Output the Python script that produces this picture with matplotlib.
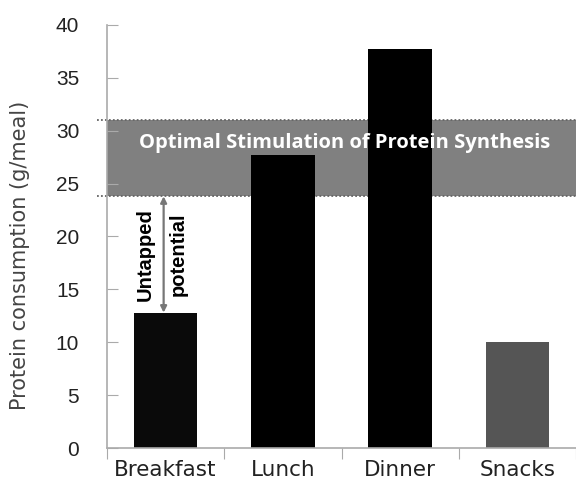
import numpy as np
import matplotlib.pyplot as plt

# meals and protein intake (g/meal)
meals = ['Breakfast', 'Lunch', 'Dinner', 'Snacks']
protein = [12.8, 27.7, 37.7, 10.0]
bar_colors = ['#0a0a0a', '#000000', '#000000', '#555555']
y_ticks = [0, 5, 10, 15, 20, 25, 30, 35, 40]

# optimal range band
optimal_low = 23.8
optimal_high = 31.0

fig = plt.figure(figsize=(5.76, 4.83), dpi=100)
ax = fig.add_axes([107 / 576, 35 / 483, 469 / 576, 423 / 483])

x = np.arange(len(meals))

# band behind the bars
ax.axhspan(optimal_low, optimal_high, color='#808080', zorder=1, lw=0)
for yv in (optimal_low, optimal_high):
    ax.axhline(yv, xmin=-0.021, xmax=1, color='#666666', ls=(0, (1, 1.2)),
               lw=1.3, zorder=1.5, clip_on=False)

ax.bar(x, protein, width=0.54, color=bar_colors, zorder=2)

ax.text(1.53, 28.8, 'Optimal Stimulation of Protein Synthesis', color='white',
        fontsize=14.5, fontweight='bold', family='Open Sans',
        ha='center', va='center', zorder=3)

# untapped potential arrow on breakfast
ax.annotate('', xy=(-0.017, optimal_low), xytext=(-0.017, protein[0]),
            arrowprops=dict(arrowstyle='<|-|>', color='#777777', lw=1.6,
                            mutation_scale=9, shrinkA=0, shrinkB=0),
            zorder=3)
mid = (optimal_low + protein[0]) / 2
ax.text(-0.175, mid, 'Untapped', rotation=90, ha='center', va='center',
        fontsize=14.5, fontweight='bold', family='Liberation Sans', zorder=3)
ax.text(0.11, mid, 'potential', rotation=90, ha='center', va='center',
        fontsize=14.5, fontweight='bold', family='Liberation Sans', zorder=3)

ax.set_xlim(-0.5, -0.5 + 469 / 120)
ax.set_ylim(0, 40)
ax.set_yticks(y_ticks)
ax.set_yticklabels([str(v) for v in y_ticks], fontsize=15,
                   family='Liberation Sans', color='#222222')
ax.tick_params(axis='y', direction='in', length=8, color='#aaaaaa', pad=20)

ax.set_xticks(np.arange(len(meals) + 1) - 0.5)
ax.set_xticklabels([])
ax.set_xticks(x, minor=True)
ax.set_xticklabels(meals, minor=True, fontsize=15.5, family='DejaVu Sans',
                   color='#222222')
ax.tick_params(axis='x', which='major', direction='out', length=8,
               color='#aaaaaa')
ax.tick_params(axis='x', which='minor', length=0, pad=9)

for s in ('top', 'right'):
    ax.spines[s].set_visible(False)
for s in ('left', 'bottom'):
    ax.spines[s].set_color('#aaaaaa')
    ax.spines[s].set_linewidth(1.2)

ax.set_ylabel('Protein consumption (g/meal)', fontsize=15,
              family='DejaVu Sans', color='#444444')
ax.yaxis.set_label_coords(-0.165, 0.456)

fig.savefig('out.png', dpi=100)
